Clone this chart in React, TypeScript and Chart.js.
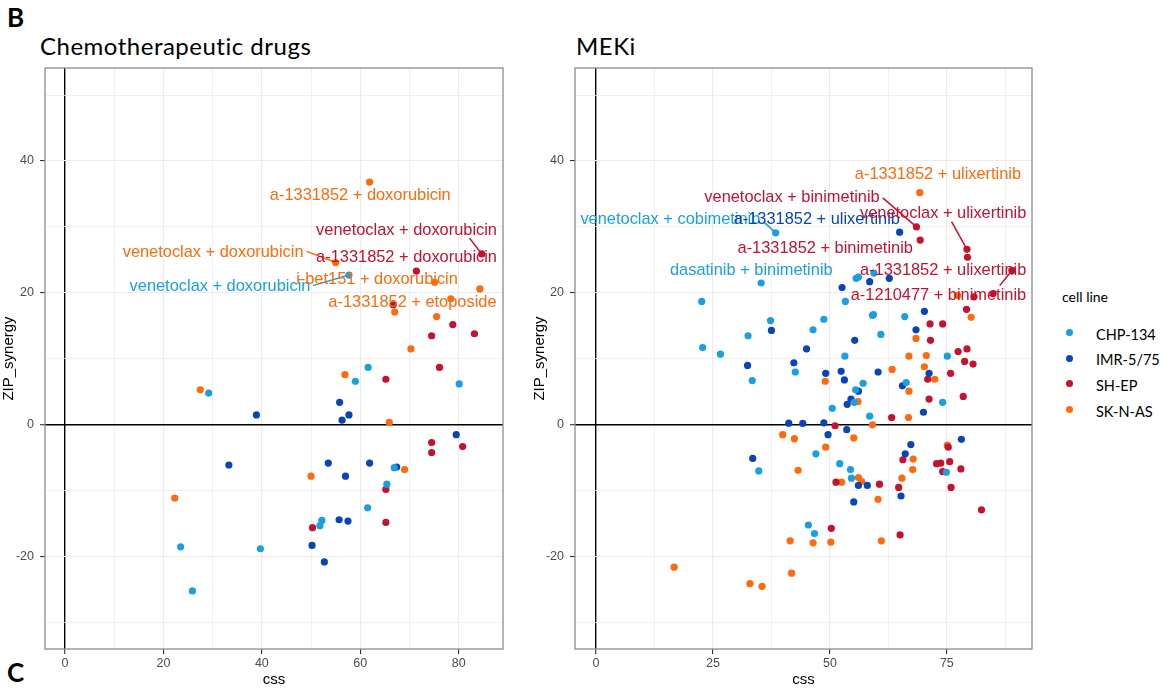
import React, { useEffect, useRef } from 'react';
import { Chart, registerables } from 'chart.js';

Chart.register(...registerables);

// ---- cell lines ----
const cellLines = ['CHP-134', 'IMR-5/75', 'SH-EP', 'SK-N-AS'];
const cellColors = ['#1a9fe0', '#0a45b5', '#c4122f', '#ff6a0d'];

// ---- Chemotherapeutic drugs: [css, ZIP_synergy] ----
const chemoCHP134: [number, number][] = [
  [57.7, 22.7], [61.6, 8.7], [59.0, 6.6], [80.1, 6.2], [29.2, 4.8], [66.9, -6.5], [65.4, -9.0],
  [61.5, -12.6], [52.2, -14.5], [51.8, -15.3], [23.5, -18.5], [39.7, -18.8], [25.9, -25.2],
];
const chemoIMR575: [number, number][] = [
  [55.8, 3.4], [38.9, 1.5], [57.7, 1.5], [56.3, 0.7], [79.5, -1.5], [33.3, -6.1], [53.5, -5.8],
  [61.9, -5.8], [67.4, -6.4], [57.0, -7.8], [55.7, -14.4], [57.5, -14.6], [50.2, -18.3], [52.7, -20.8],
];
const chemoSHEP: [number, number][] = [
  [84.7, 25.9], [71.4, 23.3], [66.7, 18.2], [78.8, 15.2], [74.5, 13.5], [83.2, 13.8], [76.1, 8.7],
  [65.2, 6.9], [74.5, -2.7], [74.5, -4.2], [80.8, -3.3], [65.2, -9.8], [50.3, -15.6], [65.2, -14.8],
];
const chemoSKNAS: [number, number][] = [
  [61.9, 36.8], [55.0, 24.6], [75.1, 21.6], [84.3, 20.6], [78.4, 19.1], [67.0, 17.1], [75.5, 16.4],
  [70.3, 11.5], [56.9, 7.6], [27.5, 5.3], [65.9, 0.35], [69.0, -6.8], [50.0, -7.8], [22.3, -11.1],
];

// ---- MEKi: [css, ZIP_synergy] ----
const mekiCHP134: [number, number][] = [
  [38.4, 29.1], [35.3, 21.5], [55.6, 22.2], [56.1, 22.4], [59.4, 23.0], [53.3, 18.7], [22.6, 18.7],
  [59.1, 16.6], [59.3, 16.7], [66.0, 16.4], [37.3, 15.8], [48.7, 16.0], [46.4, 14.4], [32.5, 13.5],
  [60.9, 13.7], [22.8, 11.7], [26.6, 10.7], [53.2, 10.4], [75.1, 10.4], [42.6, 8.0], [33.4, 6.7],
  [57.1, 6.3], [55.5, 5.3], [66.3, 6.4], [55.2, 3.4], [74.1, 3.4], [50.5, 2.5], [58.5, 1.3],
  [47.0, -4.4], [52.1, -5.9], [34.8, -7.0], [54.4, -6.8], [74.9, -7.2], [54.6, -8.1], [45.4, -15.2],
  [46.7, -16.5],
];
const mekiIMR575: [number, number][] = [
  [64.9, 29.2], [58.5, 21.7], [62.7, 22.2], [52.6, 20.8], [70.2, 17.2], [37.5, 14.3], [68.4, 14.4],
  [55.3, 12.8], [45.0, 11.5], [32.4, 9.0], [42.3, 9.4], [49.1, 7.8], [52.4, 8.1], [53.1, 6.8],
  [60.3, 8.0], [71.2, 7.8], [65.5, 5.9], [56.1, 5.1], [54.5, 3.9], [53.7, 3.1], [70.0, 1.9],
  [41.2, 0.25], [44.2, 0.2], [48.7, 0.3], [53.6, -0.75], [49.6, -1.5], [78.1, -2.2], [67.3, -3.0],
  [66.1, -4.4], [33.5, -5.1], [56.1, -9.2], [58.0, -9.2], [65.2, -10.8], [55.1, -11.7],
];
const mekiSHEP: [number, number][] = [
  [68.5, 30.0], [69.3, 28.0], [79.3, 26.6], [79.4, 25.4], [88.9, 23.4], [80.8, 19.4], [84.9, 19.9],
  [79.2, 17.5], [71.4, 15.3], [74.1, 15.3], [71.5, 12.8], [77.4, 11.1], [79.3, 11.5], [78.8, 9.6],
  [80.6, 9.2], [70.9, 6.9], [75.8, 7.8], [71.2, 3.9], [78.5, 4.3], [63.2, 1.1], [51.1, -0.15],
  [75.3, -3.4], [65.6, -5.3], [72.8, -5.9], [73.7, -5.8], [75.6, -5.6], [78.0, -6.7], [74.1, -7.1],
  [51.3, -8.7], [60.6, -9.0], [64.7, -9.5], [75.9, -9.5], [82.4, -12.9], [50.3, -15.7], [65.0, -16.7],
];
const mekiSKNAS: [number, number][] = [
  [69.2, 35.2], [77.3, 19.6], [80.2, 16.3], [68.4, 13.1], [66.9, 10.4], [70.6, 10.5], [49.0, 6.6],
  [63.3, 8.4], [70.2, 8.8], [72.4, 6.9], [66.9, 5.1], [56.0, 3.5], [66.8, 1.1], [59.1, 0.0],
  [39.9, -1.5], [42.4, -2.1], [55.1, -2.0], [49.1, -3.4], [75.1, -3.1], [67.8, -5.2], [43.2, -6.9],
  [67.7, -6.8], [56.1, -8.0], [56.8, -8.6], [52.5, -8.7], [65.4, -8.1], [60.3, -11.3], [41.5, -17.6],
  [46.4, -17.9], [50.2, -17.8], [61.0, -17.6], [16.7, -21.6], [41.8, -22.5], [32.9, -24.1], [35.5, -24.5],
];

// ---- ticks ----
const chemoXTicks = [0, 10, 20, 30, 40, 50, 60, 70, 80];
const chemoXLabels = [0, 20, 40, 60, 80];
const mekiXTicks = [0, 12.5, 25, 37.5, 50, 62.5, 75, 87.5];
const mekiXLabels = [0, 25, 50, 75];
const yTicks = [-30, -20, -10, 0, 10, 20, 30, 40, 50];
const yLabels = [-20, 0, 20, 40];

// ---- repelled combination labels (text centre, optional leader to a point) ----
type Tag = { text: string; line: number; at: [number, number]; from?: [number, number]; to?: [number, number] };

const chemoTags: Tag[] = [
  { text: 'a-1331852 + doxorubicin', line: 3, at: [60.0, 34.7] },
  { text: 'venetoclax + doxorubicin', line: 2, at: [69.4, 29.5], from: [82.2, 28.3], to: [84.7, 25.9] },
  { text: 'venetoclax + doxorubicin', line: 3, at: [30.1, 26.1], from: [49.1, 26.3], to: [55.0, 24.6] },
  { text: 'a-1331852 + doxorubicin', line: 2, at: [69.4, 25.4] },
  { text: 'venetoclax + doxorubicin', line: 0, at: [31.5, 21.0], from: [50.4, 21.1], to: [57.7, 22.7] },
  { text: 'i-bet151 + doxorubicin', line: 3, at: [63.4, 22.0] },
  { text: 'a-1331852 + etoposide', line: 3, at: [70.6, 18.5] },
];

const mekiTags: Tag[] = [
  { text: 'a-1331852 + ulixertinib', line: 3, at: [73.1, 37.9] },
  { text: 'venetoclax + binimetinib', line: 2, at: [41.9, 34.4], from: [61.3, 34.4], to: [68.5, 30.0] },
  { text: 'venetoclax + cobimetinib', line: 0, at: [15.9, 31.1], from: [35.8, 30.8], to: [38.4, 29.1] },
  { text: 'a-1331852 + ulixertinib', line: 1, at: [47.2, 31.1] },
  { text: 'venetoclax + ulixertinib', line: 2, at: [74.2, 32.0], from: [76.0, 30.8], to: [79.3, 26.6] },
  { text: 'a-1331852 + binimetinib', line: 2, at: [49.0, 26.8] },
  { text: 'dasatinib + binimetinib', line: 0, at: [33.2, 23.4] },
  { text: 'a-1331852 + ulixertinib', line: 2, at: [74.2, 23.4] },
  { text: 'a-1210477 + binimetinib', line: 2, at: [73.2, 19.6], from: [86.3, 21.1], to: [88.9, 23.4] },
];

const SANS = '"Liberation Sans", Arial, Helvetica, sans-serif';
const UI = 'Lato, "Open Sans", sans-serif';

const framePlugin = {
  id: 'panelFrame',
  afterDraw(chart: any) {
    const { ctx, chartArea: a } = chart;
    ctx.save();
    ctx.strokeStyle = '#8c8c8c';
    ctx.lineWidth = 1.3;
    ctx.strokeRect(a.left, a.top, a.right - a.left, a.bottom - a.top);
    ctx.restore();
  },
};

function tagPlugin(tags: Tag[]) {
  return {
    id: 'comboTags',
    afterDatasetsDraw(chart: any) {
      const { ctx } = chart;
      const xs = chart.scales.x;
      const ys = chart.scales.y;
      ctx.save();
      ctx.font = `16.4px ${SANS}`;
      ctx.textAlign = 'center';
      ctx.textBaseline = 'middle';
      for (const t of tags) {
        const col = cellColors[t.line];
        if (t.from && t.to) {
          ctx.strokeStyle = col;
          ctx.lineWidth = 1.5;
          ctx.beginPath();
          ctx.moveTo(xs.getPixelForValue(t.from[0]), ys.getPixelForValue(t.from[1]));
          ctx.lineTo(xs.getPixelForValue(t.to[0]), ys.getPixelForValue(t.to[1]));
          ctx.stroke();
        }
        ctx.fillStyle = col;
        ctx.fillText(t.text, xs.getPixelForValue(t.at[0]), ys.getPixelForValue(t.at[1]));
      }
      ctx.restore();
    },
  };
}

function gridFor(labelled: number[]) {
  return {
    color: (c: any) => (c.tick && c.tick.value === 0 ? '#000000' : '#ececec'),
    lineWidth: (c: any) =>
      c.tick && c.tick.value === 0 ? 1.4 : c.tick && labelled.includes(c.tick.value) ? 1.1 : 0.8,
    tickColor: (c: any) => (c.tick && labelled.includes(c.tick.value) ? '#333333' : 'rgba(0,0,0,0)'),
    tickWidth: 1.1,
    tickLength: 5,
    drawTicks: true,
    drawOnChartArea: true,
  };
}

type PanelProps = {
  series: [number, number][][];
  tags: Tag[];
  xTicks: number[];
  xLabels: number[];
  xMin: number;
  xMax: number;
  left: number;
  yAxisWidth: number;
  padRight: number;
  yTitlePad: number;
};

function ScatterPanel(p: PanelProps) {
  const ref = useRef<HTMLCanvasElement>(null);
  useEffect(() => {
    const chart = new Chart(ref.current as HTMLCanvasElement, {
      type: 'scatter',
      data: {
        datasets: p.series.map((pts, i) => ({
          label: cellLines[i],
          data: pts.map(([x, y]) => ({ x, y })),
          backgroundColor: cellColors[i],
          borderWidth: 0,
          pointRadius: 3.6,
          pointHoverRadius: 3.6,
        })),
      },
      options: {
        animation: false,
        responsive: false,
        maintainAspectRatio: false,
        events: [],
        layout: { padding: { top: 68, right: p.padRight, bottom: 0, left: 0 } },
        plugins: { legend: { display: false }, tooltip: { enabled: false } },
        scales: {
          x: {
            type: 'linear',
            min: p.xMin,
            max: p.xMax,
            afterBuildTicks: (s: any) => {
              s.ticks = p.xTicks.map((v) => ({ value: v }));
            },
            afterFit: (s: any) => {
              s.height = 40;
            },
            ticks: {
              autoSkip: false,
              maxRotation: 0,
              padding: 2,
              color: '#4d4d4d',
              font: { family: SANS, size: 12.5 },
              callback: (v: any) => (p.xLabels.includes(Number(v)) ? String(v) : ''),
            },
            grid: gridFor(p.xLabels) as any,
            border: { display: false },
            title: {
              display: true,
              text: 'css',
              color: '#000',
              font: { family: SANS, size: 15 },
              padding: { top: 0, bottom: 0 },
            },
          },
          y: {
            type: 'linear',
            min: -34.0,
            max: 54.1,
            afterBuildTicks: (s: any) => {
              s.ticks = yTicks.map((v) => ({ value: v }));
            },
            afterFit: (s: any) => {
              s.width = p.yAxisWidth;
            },
            ticks: {
              autoSkip: false,
              padding: 6,
              color: '#4d4d4d',
              font: { family: SANS, size: 12.5 },
              callback: (v: any) => (yLabels.includes(Number(v)) ? String(v) : ''),
            },
            grid: gridFor(yLabels) as any,
            border: { display: false },
            title: {
              display: true,
              text: 'ZIP_synergy',
              color: '#000',
              font: { family: SANS, size: 15 },
              padding: { top: p.yTitlePad, bottom: 0 },
            },
          },
        },
      },
      plugins: [framePlugin, tagPlugin(p.tags)],
    });
    return () => chart.destroy();
  }, []);
  return (
    <canvas
      ref={ref}
      width={520}
      height={689}
      style={{ position: 'absolute', left: p.left, top: 0, width: 520, height: 689 }}
    />
  );
}

const legendRows = [332.5, 358.2, 383.9, 409.6];

export default function App() {
  return (
    <div
      style={{
        position: 'absolute',
        left: 0,
        top: 0,
        width: 1163,
        height: 689,
        background: '#fff',
        overflow: 'hidden',
        fontFamily: UI,
      }}
    >
      <div style={{ position: 'absolute', left: 7, top: 3.6, fontSize: 26, lineHeight: '26px', fontWeight: 700 }}>B</div>
      <div style={{ position: 'absolute', left: 7, top: 658.6, fontSize: 26, lineHeight: '26px', fontWeight: 700 }}>C</div>
      <div style={{ position: 'absolute', left: 40, top: 33.6, fontSize: 24, lineHeight: '24px', letterSpacing: 0.5 }}>
        Chemotherapeutic drugs
      </div>
      <div style={{ position: 'absolute', left: 576, top: 33.6, fontSize: 24, lineHeight: '24px', letterSpacing: 0.5 }}>
        MEKi
      </div>

      <ScatterPanel
        series={[chemoCHP134, chemoIMR575, chemoSHEP, chemoSKNAS]}
        tags={chemoTags}
        xTicks={chemoXTicks}
        xLabels={chemoXLabels}
        xMin={-4.06}
        xMax={89.0}
        left={0}
        yAxisWidth={45}
        padRight={17}
        yTitlePad={0}
      />
      <ScatterPanel
        series={[mekiCHP134, mekiIMR575, mekiSHEP, mekiSKNAS]}
        tags={mekiTags}
        xTicks={mekiXTicks}
        xLabels={mekiXLabels}
        xMin={-4.49}
        xMax={93.2}
        left={520}
        yAxisWidth={55}
        padRight={8}
        yTitlePad={11}
      />

      <div style={{ position: 'absolute', left: 1062, top: 287, fontSize: 14, lineHeight: '20px' }}>cell line</div>
      {cellLines.map((name, i) => (
        <React.Fragment key={name}>
          <div
            style={{
              position: 'absolute',
              left: 1069.3 - 3.6,
              top: legendRows[i] - 3.6,
              width: 7.2,
              height: 7.2,
              borderRadius: '50%',
              background: cellColors[i],
            }}
          />
          <div style={{ position: 'absolute', left: 1096, top: legendRows[i] - 8, fontSize: 14.5, lineHeight: '20px' }}>
            {name}
          </div>
        </React.Fragment>
      ))}
    </div>
  );
}
